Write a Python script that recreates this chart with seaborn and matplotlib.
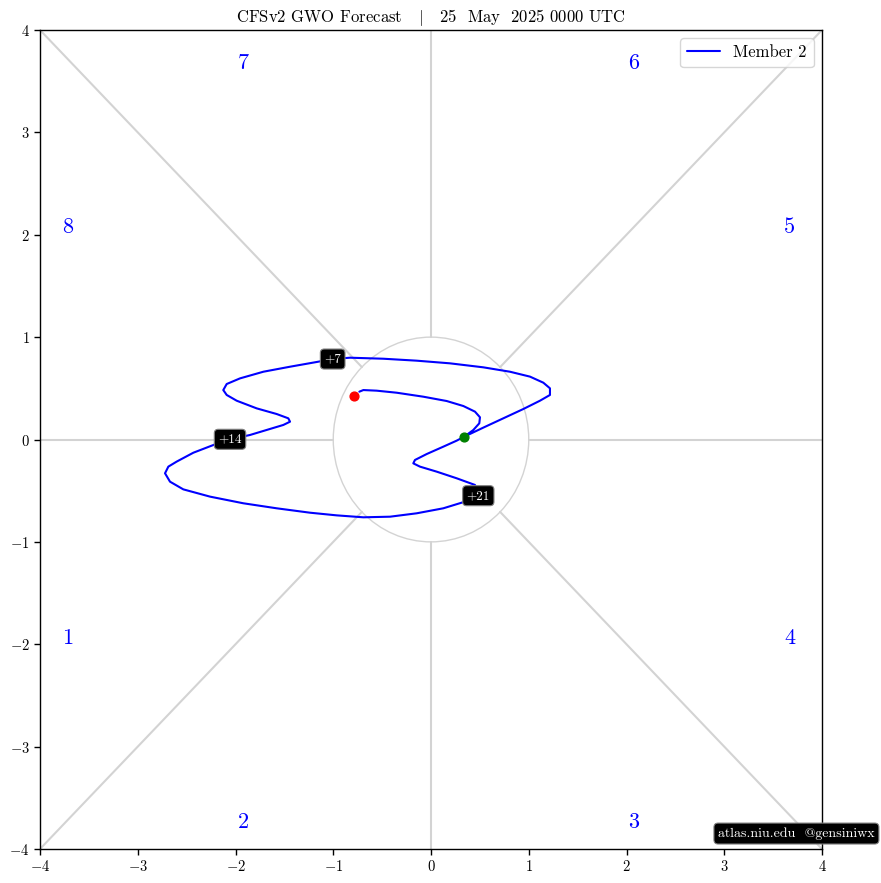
import numpy as np
import pandas as pd
import matplotlib
matplotlib.use('Agg')
import matplotlib.pyplot as plt
import seaborn as sns

# GWO trajectory (member 2), daily points
gwo_x = [0.341, 0.535, 0.740, 0.945, 1.115, 1.217, 1.217, 1.149, 1.013, 0.808,
         0.535, 0.194, -0.147, -0.488, -0.829, -1.006, -1.170, -1.442, -1.715, -1.954,
         -2.090, -2.125, -2.090, -1.988, -1.783, -1.579, -1.460, -1.442, -1.511, -1.647,
         -1.852, -2.056, -2.227, -2.431, -2.602, -2.687, -2.721, -2.670, -2.534, -2.261,
         -1.920, -1.579, -1.238, -0.965, -0.692, -0.419, -0.147, 0.126, 0.314, 0.484,
         0.450, 0.263, 0.058, -0.113, -0.181, -0.164, -0.044, 0.126, 0.263, 0.341,
         0.433, 0.494, 0.501, 0.450, 0.331, 0.160, -0.078, -0.351, -0.556, -0.692, -0.733]
gwo_y = [0.028, 0.116, 0.207, 0.298, 0.379, 0.435, 0.500, 0.555, 0.614, 0.662,
         0.705, 0.744, 0.770, 0.789, 0.799, 0.786, 0.757, 0.711, 0.662, 0.597,
         0.542, 0.483, 0.435, 0.379, 0.304, 0.249, 0.207, 0.174, 0.142, 0.103,
         0.044, 0.002, -0.054, -0.129, -0.216, -0.265, -0.330, -0.412, -0.487, -0.558,
         -0.623, -0.672, -0.715, -0.741, -0.760, -0.754, -0.721, -0.672, -0.617, -0.549,
         -0.444, -0.379, -0.314, -0.265, -0.233, -0.200, -0.142, -0.070, -0.011, 0.028,
         0.093, 0.158, 0.217, 0.272, 0.327, 0.376, 0.418, 0.457, 0.477, 0.483, 0.467]

start_pt = (0.341, 0.028)
end_pt = (-0.784, 0.428)

lead_labels = ['+7', '+14', '+21']
lead_x = [-1.006, -2.056, 0.484]
lead_y = [0.786, 0.002, -0.549]

phase_labels = ['1', '2', '3', '4', '5', '6', '7', '8']
phase_x = [-3.72, -1.92, 2.07, 3.67, 3.67, 2.07, -1.92, -3.72]
phase_y = [-1.94, -3.74, -3.74, -1.94, 2.07, 3.68, 3.68, 2.07]

df = pd.DataFrame({'x': gwo_x, 'y': gwo_y, 'member': 'Member 2'})

sns.set_style('ticks')
plt.rcParams['font.family'] = 'serif'
plt.rcParams['font.serif'] = ['cmr10', 'DejaVu Serif']
plt.rcParams['mathtext.fontset'] = 'cm'
plt.rcParams['axes.formatter.use_mathtext'] = True
plt.rcParams['axes.unicode_minus'] = True
plt.rcParams['text.color'] = 'black'
plt.rcParams['axes.edgecolor'] = 'black'
plt.rcParams['xtick.color'] = 'black'
plt.rcParams['ytick.color'] = 'black'

fig = plt.figure(figsize=(8.81, 8.83), dpi=100)
ax = fig.add_axes([40/881, 34/883, 782/881, 819/883])

# phase-space guide lines
gc = 'lightgray'
ax.plot([-4, -0.7071], [-4, -0.7071], color=gc, lw=1.5, zorder=1)
ax.plot([0.7071, 4], [0.7071, 4], color=gc, lw=1.5, zorder=1)
ax.plot([-4, -0.7071], [4, 0.7071], color=gc, lw=1.5, zorder=1)
ax.plot([0.7071, 4], [-0.7071, -4], color=gc, lw=1.5, zorder=1)
ax.plot([-4, -1], [0, 0], color=gc, lw=1.5, zorder=1)
ax.plot([1, 4], [0, 0], color=gc, lw=1.5, zorder=1)
ax.plot([0, 0], [1, 4], color=gc, lw=1.5, zorder=1)
ax.plot([0, 0], [-1, -4], color=gc, lw=1.5, zorder=1)
ax.add_patch(plt.Circle((0, 0), 1, fill=False, color=gc, lw=1, zorder=1))

for lab, px, py in zip(phase_labels, phase_x, phase_y):
    ax.text(px, py, lab, color='blue', fontsize=16, ha='center', va='center')

sns.lineplot(data=df, x='x', y='y', hue='member', palette=['blue'], sort=False,
             estimator=None, lw=1.5, ax=ax, zorder=3)

ax.scatter([start_pt[0]], [start_pt[1]], color='green', s=40, zorder=5)
ax.scatter([end_pt[0]], [end_pt[1]], color='red', s=40, zorder=5)

for lab, px, py in zip(lead_labels, lead_x, lead_y):
    ax.text(px, py, lab, color='white', fontsize=9.5, ha='center', va='center', zorder=6,
            bbox=dict(boxstyle='round,pad=0.3', fc='black', ec='gray', lw=0.8))

ax.set_xlim(-4, 4)
ax.set_ylim(-4, 4)
ax.set_xlabel('')
ax.set_ylabel('')
ax.tick_params(labelsize=10.5, length=4, width=1)
ax.set_title(r'CFSv2 GWO Forecast   $|$   25  May  2025 0000 UTC', fontsize=12)
ax.legend(loc='upper right', fontsize=12, fancybox=True)
for s in ax.spines.values():
    s.set_linewidth(1.0)

fig.text(0.904, 0.056, 'atlas.niu.edu  @gensiniwx', color='white', fontsize=10,
         ha='center', va='center',
         bbox=dict(boxstyle='round,pad=0.3', fc='black', ec='gray', lw=0.8))

plt.savefig('out.png', dpi=100)
